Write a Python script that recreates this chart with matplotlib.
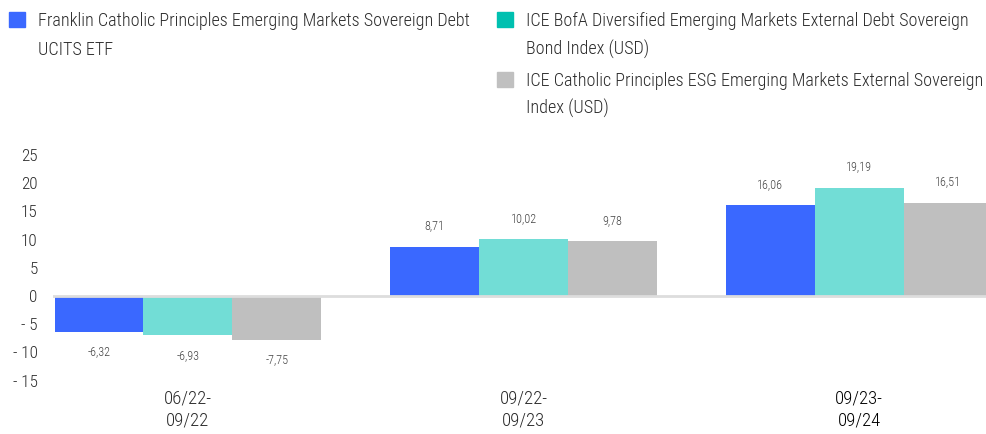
import matplotlib
matplotlib.use("Agg")
import matplotlib.pyplot as plt
import numpy as np
from matplotlib.patches import Rectangle

plt.rcParams["font.family"] = ["Roboto Condensed", "Liberation Sans Narrow",
                               "Open Sans Condensed", "Roboto", "DejaVu Sans"]
plt.rcParams["font.weight"] = "light"

periods = ["06/22-\n09/22", "09/22-\n09/23", "09/23-\n09/24"]
series = [
    ["Franklin Catholic Principles Emerging Markets Sovereign Debt", "UCITS ETF"],
    ["ICE BofA Diversified Emerging Markets External Debt Sovereign", "Bond Index (USD)"],
    ["ICE Catholic Principles ESG Emerging Markets External Sovereign", "Index (USD)"],
]
fund = [-6.32, 8.71, 16.06]
bofa = [-6.93, 10.02, 19.19]
catholic = [-7.75, 9.78, 16.51]
values = [fund, bofa, catholic]
yticks = [25, 20, 15, 10, 5, 0, -5, -10, -15]

bar_colors = ["#3a68ff", "#72ddd6", "#bfbfbf"]
legend_colors = ["#3a68ff", "#00c0b0", "#c0c0c0"]
TEXT = "#2b2b2b"

W, H = 987, 434
fig = plt.figure(figsize=(W / 100, H / 100), dpi=100)
renderer = fig.canvas.get_renderer()


def fit(s, target_px):
    # font size that makes s about target_px wide in the chosen font
    t = fig.text(0, 0, s, fontsize=10)
    w = t.get_window_extent(renderer).width
    t.remove()
    return 10 * target_px / w


fs_leg = fit(series[0][0], 434)
fs_y = fit("- 15", 25)
fs_x = fit("06/22-", 48)
fs_val = fit("16,06", 26)

ax = fig.add_axes([53 / W, 0.110, 1 - 53 / W, 0.559])

x = np.arange(len(periods))
w = 0.265
for i, vals in enumerate(values):
    pos = x + (i - 1) * w
    bars = ax.bar(pos, vals, width=w, color=bar_colors[i], zorder=2)
    for b, v in zip(bars, vals):
        lbl = f"{v:.2f}".replace(".", ",")
        off = 14.5 if v >= 0 else -14.5
        ax.annotate(lbl, (b.get_x() + b.get_width() / 2, v),
                    xytext=(0, off), textcoords="offset points",
                    ha="center", va="center", fontsize=fs_val, color="#444444")

ax.axhline(0, color="#dddddd", lw=2, zorder=3)
ax.set_xlim(-0.402, 2.381)
ax.set_ylim(-16, 27)
ax.set_yticks(yticks)
ax.set_yticklabels([f"- {abs(t)}" if t < 0 else str(t) for t in yticks])
ax.set_xticks(x)
ax.set_xticklabels(periods)
for s in ax.spines.values():
    s.set_visible(False)
ax.tick_params(length=0, colors=TEXT)
ax.tick_params(axis="y", labelsize=fs_y, pad=11)
ax.tick_params(axis="x", labelsize=fs_x, pad=2)
for t in ax.get_xticklabels():
    t.set_linespacing(1.35)
ax.get_xticklabels()[2].set_color("black")

# legend: swatch + two wrapped lines per entry
entries = [(9, 12, 38, (26, 55)), (497, 12, 526, (26, 55)), (497, 72, 526, (86, 114))]
for (sx, sy, tx, bases), col, lines in zip(entries, legend_colors, series):
    fig.patches.append(Rectangle((sx / W, 1 - (sy + 15) / H), 16 / W, 15 / H,
                                 transform=fig.transFigure, color=col))
    for base, line in zip(bases, lines):
        fig.text(tx / W, 1 - base / H, line, fontsize=fs_leg, color=TEXT,
                 va="baseline", ha="left")

fig.savefig("out.png", dpi=100, facecolor="white")
